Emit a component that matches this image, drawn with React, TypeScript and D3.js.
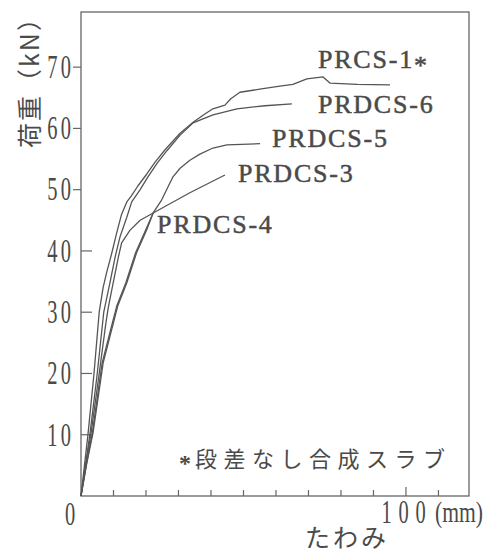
import React from "react";
import * as d3 from "d3";

// load (kN) vs deflection (mm)
const prcs1: [number, number][] = [
  [0, 0], [2.2, 10.3], [4, 20], [5.6, 30], [6.8, 34], [7.9, 36.5], [9.4, 39.5],
  [11, 43], [12.5, 46], [14.1, 48], [15.5, 49], [17.5, 50.6], [20.3, 52.6],
  [22.8, 54.5], [26, 56.6], [30.5, 59.2], [34.5, 61], [38, 62.3], [40.6, 63.2],
  [44.3, 63.8], [46, 64.8], [48.9, 65.9], [55, 66.4], [61.2, 66.9], [65.2, 67.2],
  [69.5, 68.1], [74.5, 68.4], [76.6, 67.4], [85, 67.2], [95.1, 67.1],
];
const prdcs6: [number, number][] = [
  [0, 0], [2.8, 10.3], [5, 20], [7, 30], [8.9, 34.8], [10.5, 39], [12, 42.3],
  [14.1, 45.5], [15.6, 48], [18.2, 50], [20.6, 52.1], [23.4, 54.3], [26.5, 56.4],
  [30.5, 58.9], [34.5, 60.9], [40.6, 62.2], [48, 63.2], [56.6, 63.7], [64.9, 64.0],
];
const prdcs5: [number, number][] = [
  [0, 0], [1.8, 5.4], [3.7, 10.3], [6.8, 21.7], [9.4, 27.1], [11.3, 31], [14.1, 34.8],
  [17.1, 39.7], [20.2, 43.4], [22.2, 46.2], [24.8, 48.3], [28.3, 52.1], [30.5, 53.5],
  [33.5, 54.8], [36.6, 55.8], [40.6, 56.8], [44.9, 57.3], [55.1, 57.5],
];
const prdcs3: [number, number][] = [
  [0, 0], [3.1, 10.3], [5.6, 20], [7.6, 28], [8.4, 30.8], [9.9, 34.8], [11.5, 39],
  [12.5, 41.3], [15.1, 43.4], [18.2, 45], [22.2, 46.2], [33.5, 49.5], [44.3, 52.4],
];
const prdcs4: [number, number][] = [
  [0, 0], [1.6, 5], [3.5, 10.3], [6.5, 21.7], [9.1, 27.1], [11, 31], [13.8, 34.8],
  [16.8, 39.7], [19.9, 43.4], [22.2, 46.2],
];

const seriesNames = ["PRCS-1*", "PRDCS-6", "PRDCS-5", "PRDCS-3", "PRDCS-4"];
const seriesData = [prcs1, prdcs6, prdcs5, prdcs3, prdcs4];

const yTicks = [10, 20, 30, 40, 50, 60, 70];
const xTicks = [10, 20, 30, 40, 50, 60, 70, 80, 90, 100, 110];
const xTickLabel = 100;

const yTitle = "荷重（kN）";
const xTitle = "たわみ";
const note = "段差なし合成スラブ";

export default function App() {
  const width = 492;
  const height = 553;
  const x = d3.scaleLinear().domain([0, 119.4]).range([81, 469]);
  const y = d3.scaleLinear().domain([0, 79]).range([496, 12]);

  const line = d3
    .line<[number, number]>()
    .x((d) => x(d[0]))
    .y((d) => y(d[1]));

  const ink = "#4a4a4a";
  const digitFont = "'Liberation Serif', serif";
  const cjkFont = "'Noto Sans CJK JP', sans-serif";

  // label anchors in data units (left edge, baseline)
  const labelAt: Record<string, [number, number]> = {
    "PRCS-1*": [72.9, 69.9],
    "PRDCS-6": [72.9, 62.5],
    "PRDCS-5": [58.8, 57.0],
    "PRDCS-3": [48.3, 51.2],
    "PRDCS-4": [23.4, 42.9],
  };

  const [x0, x1] = x.range();
  const [y0, y1] = y.range();

  return (
    <svg
      width={width}
      height={height}
      style={{ position: "fixed", left: 0, top: 0, background: "#fff" }}
    >
      <rect x={0} y={0} width={width} height={height} fill="#fff" />

      {/* frame */}
      <rect
        x={x0}
        y={y1}
        width={x1 - x0}
        height={y0 - y1}
        fill="none"
        stroke="#666"
        strokeWidth={1.3}
      />

      {/* y ticks: upper ones stick out, lower ones point in */}
      {yTicks.map((v) => (
        <line
          key={"yt" + v}
          x1={v >= 50 ? x0 - 8 : x0}
          x2={v >= 50 ? x0 : x0 + 11}
          y1={y(v)}
          y2={y(v)}
          stroke="#666"
          strokeWidth={1.2}
        />
      ))}
      {yTicks.map((v) => (
        <text
          key={"yl" + v}
          transform={`translate(74,${y(v)}) scale(0.62,1)`}
          textAnchor="end"
          dominantBaseline="central"
          fontFamily={digitFont}
          fontSize={33}
          letterSpacing={5}
          fill={ink}
        >
          {v}
        </text>
      ))}
      <text
        transform={`translate(70,${y0 + 18}) scale(0.62,1)`}
        textAnchor="middle"
        dominantBaseline="central"
        fontFamily={digitFont}
        fontSize={33}
        fill={ink}
      >
        0
      </text>

      {/* x ticks */}
      {xTicks.map((v) => (
        <line
          key={"xt" + v}
          x1={x(v)}
          x2={x(v)}
          y1={y0}
          y2={y0 - (v === xTickLabel ? 9 : 6)}
          stroke="#666"
          strokeWidth={1.2}
        />
      ))}
      <text
        transform={`translate(${x(xTickLabel) + 1},${y0 + 16}) scale(0.62,1)`}
        textAnchor="middle"
        dominantBaseline="central"
        fontFamily={digitFont}
        fontSize={33}
        letterSpacing={11}
        fill={ink}
      >
        {xTickLabel}
      </text>
      <text
        transform={`translate(${x(xTickLabel) + 29},${y0 + 16}) scale(0.72,1)`}
        dominantBaseline="central"
        fontFamily={digitFont}
        fontSize={30}
        fill={ink}
      >
        (mm)
      </text>

      {/* axis titles */}
      <text
        x={347}
        y={536}
        textAnchor="middle"
        dominantBaseline="central"
        fontFamily={cjkFont}
        fontSize={25}
        letterSpacing={3}
        fill={ink}
      >
        {xTitle}
      </text>
      <text
        transform="translate(28,148) rotate(-90)"
        dominantBaseline="central"
        fontFamily={cjkFont}
        fontSize={25}
        letterSpacing={2}
        fill={ink}
      >
        {yTitle}
      </text>

      {/* curves */}
      {seriesData.map((d, i) => (
        <path
          key={seriesNames[i]}
          d={line(d) || ""}
          fill="none"
          stroke="#555"
          strokeWidth={1.3}
          strokeLinejoin="round"
        />
      ))}

      {/* curve labels */}
      {seriesNames.map((name) => {
        const star = name.endsWith("*");
        return (
          <text
            key={"lbl" + name}
            x={x(labelAt[name][0])}
            y={y(labelAt[name][1])}
            fontFamily={digitFont}
            fontSize={26}
            letterSpacing={1.8}
            fill={ink}
            stroke={ink}
            strokeWidth={0.5}
          >
            {star ? name.slice(0, -1) : name}
            {star && <tspan dy={6}>*</tspan>}
          </text>
        );
      })}

      {/* footnote */}
      <text
        x={185}
        y={463}
        textAnchor="middle"
        dominantBaseline="central"
        fontFamily={digitFont}
        fontSize={24}
        fontWeight="bold"
        fill={ink}
      >
        *
      </text>
      <text
        x={195}
        y={457}
        dominantBaseline="central"
        fontFamily={cjkFont}
        fontSize={22}
        letterSpacing={6.5}
        fill={ink}
      >
        {note}
      </text>
    </svg>
  );
}
